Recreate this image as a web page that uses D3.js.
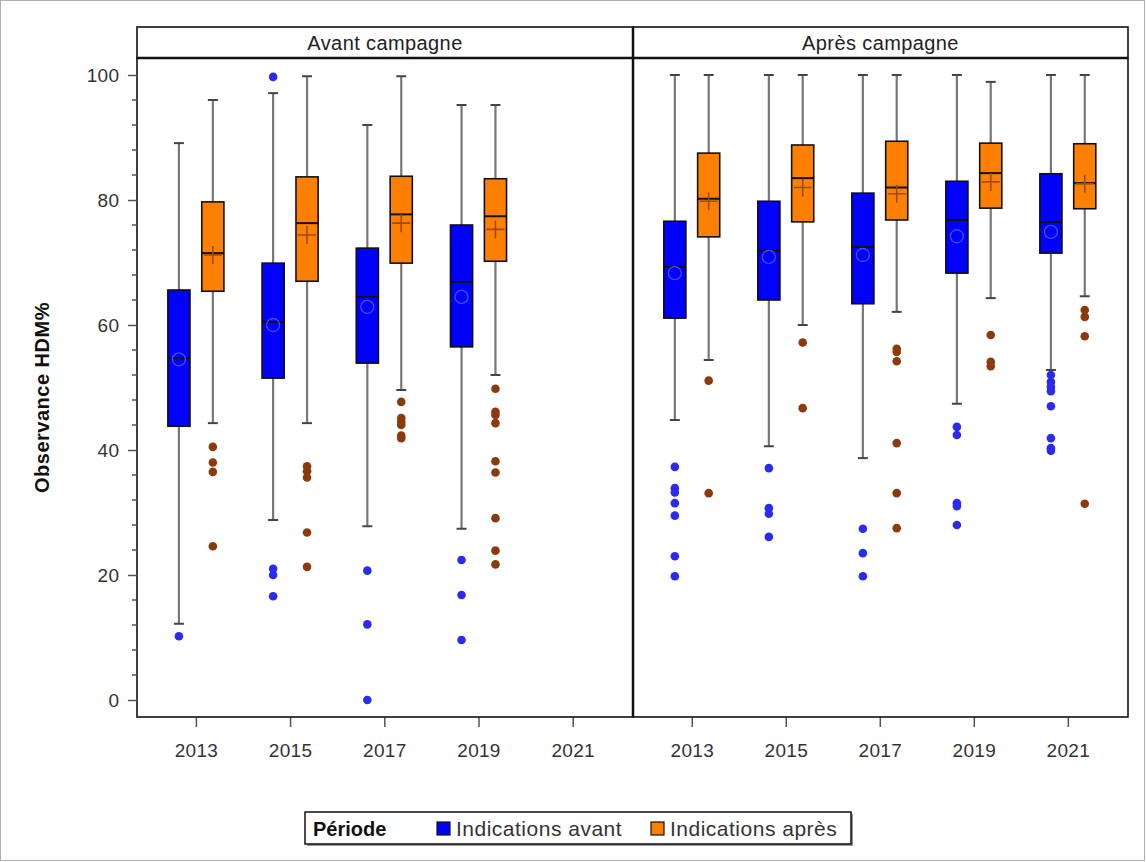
<!DOCTYPE html>
<html>
<head>
<meta charset="utf-8">
<script src="https://cdn.jsdelivr.net/npm/d3@7"></script>
<style>
  body { margin: 0; background: white; }
  text { font-family: Arial, "Liberation Sans", sans-serif; }
</style>
</head>
<body>
<div id="chart"></div>
<script>

// *** DATA ***
let years = [2013, 2015, 2017, 2019, 2021];
let panels = ["Avant campagne", "Après campagne"];
let series = ["Indications avant", "Indications après"];
let yTicks = [0, 20, 40, 60, 80, 100];

// rows: year, whisker low, q1, median, q3, whisker high, mean
let avantBlue = [
  [2013, 12.2, 43.8, 54.7, 65.6, 89.1, 54.5],
  [2015, 28.8, 51.5, 60.5, 69.9, 97.1, 60.0],
  [2017, 27.8, 53.9, 64.5, 72.3, 92.0, 62.9],
  [2019, 27.4, 56.5, 66.9, 76.0, 95.2, 64.5]
];
let avantOrange = [
  [2013, 44.3, 65.4, 71.5, 79.7, 96.0, 71.2],
  [2015, 44.3, 67.0, 76.3, 83.7, 99.8, 74.4],
  [2017, 49.6, 69.9, 77.7, 83.8, 99.8, 76.3],
  [2019, 52.0, 70.2, 77.4, 83.4, 95.2, 75.3]
];
let apresBlue = [
  [2013, 44.8, 61.1, 69.3, 76.6, 100, 68.3],
  [2015, 40.6, 64.0, 71.9, 79.8, 100, 70.9],
  [2017, 38.7, 63.4, 72.5, 81.1, 100, 71.2],
  [2019, 47.4, 68.3, 76.8, 83.0, 100, 74.2],
  [2021, 52.8, 71.5, 76.5, 84.2, 100, 74.9]
];
let apresOrange = [
  [2013, 54.4, 74.1, 80.2, 87.5, 100, 79.8],
  [2015, 60.0, 76.5, 83.5, 88.8, 100, 82.0],
  [2017, 62.1, 76.8, 82.0, 89.4, 100, 81.0],
  [2019, 64.3, 78.7, 84.3, 89.1, 98.9, 82.9],
  [2021, 64.6, 78.6, 82.7, 89.0, 100, 82.6]
];

// outliers: year, values
let avantBlueOut = [
  [2013, [10.2]],
  [2015, [99.7, 21.0, 20.0, 16.6]],
  [2017, [20.7, 12.1, 0]],
  [2019, [22.4, 16.8, 9.6]]
];
let avantOrangeOut = [
  [2013, [40.5, 38.0, 36.5, 24.6]],
  [2015, [37.4, 36.6, 35.6, 26.8, 21.3]],
  [2017, [47.7, 45.1, 44.5, 44.0, 42.3, 41.9]],
  [2019, [49.8, 46.1, 45.6, 44.3, 38.2, 36.4, 29.1, 23.9, 21.7]]
];
let apresBlueOut = [
  [2013, [37.3, 33.9, 33.2, 31.5, 29.5, 23.0, 19.8]],
  [2015, [37.1, 30.7, 29.8, 26.1]],
  [2017, [27.4, 23.5, 19.8]],
  [2019, [43.7, 42.4, 31.5, 31.0, 28.0]],
  [2021, [52.0, 50.9, 50.1, 49.4, 47.0, 41.9, 40.3, 39.9]]
];
let apresOrangeOut = [
  [2013, [51.1, 33.1]],
  [2015, [57.2, 46.7]],
  [2017, [56.2, 55.7, 54.2, 41.1, 33.1, 27.5]],
  [2019, [58.4, 54.1, 53.4]],
  [2021, [62.4, 61.3, 58.2, 31.4]]
];

// *** SETTINGS ***
let width = 1146, height = 862;
let plotTop = 58, plotBottom = 717, stripTop = 27;
let panelX = [[137, 633], [633, 1128]];
let offset = 0.36, boxW = 0.47;   // in years
let colors = {
  blue: "#0000ff", orange: "#ff8000",
  blueOut: "#2b2bf0", orangeOut: "#8c3a0c",
  blueMean: "#4a4aff", orangeMean: "#9a4a12",
  whisker: "#777777", text: "#333333"
};

let svg = d3.select("#chart").append("svg")
  .attr("width", width)
  .attr("height", height);

// outer frame
svg.append("rect")
  .attr("x", 0.5).attr("y", 0.5)
  .attr("width", width - 2).attr("height", height - 2)
  .attr("fill", "white")
  .attr("stroke", "#b0b0b0");

let y = d3.scaleLinear()
  .domain([-2.72, 102.72])
  .range([plotBottom, plotTop]);

let panelData = [
  { blue: avantBlue, orange: avantOrange, blueOut: avantBlueOut, orangeOut: avantOrangeOut },
  { blue: apresBlue, orange: apresOrange, blueOut: apresBlueOut, orangeOut: apresOrangeOut }
];

panelData.forEach(function(pd, p) {

  let x = d3.scaleLinear()
    .domain([2011.75, 2022.28])
    .range(panelX[p]);

  let g = svg.append("g").attr("class", "panel" + p);

  //x axis
  let xAxis = d3.axisBottom(x).tickValues(years).tickFormat(d3.format("d")).tickSize(10).tickSizeOuter(0);
  let ax = g.append("g").attr("transform", "translate(0," + plotBottom + ")").call(xAxis);
  ax.select(".domain").remove();
  ax.selectAll("line").attr("stroke", "#555").attr("stroke-width", 1.5);
  ax.selectAll("text")
    .attr("dy", "1.4em")
    .style("font-size", "19px")
    .style("letter-spacing", "0.3px")
    .style("fill", colors.text);

  //draw one series of boxes
  function drawBoxes(rows, outs, sign, fill, outColor, meanType) {
    let bg = g.append("g");
    rows.forEach(function(r) {
      let cx = x(r[0] + sign * offset);
      let x0 = x(r[0] + sign * offset - boxW / 2);
      let x1 = x(r[0] + sign * offset + boxW / 2);
      let capW = (x1 - x0) * 0.45;

      //whisker
      bg.append("line")
        .attr("x1", cx).attr("x2", cx)
        .attr("y1", y(r[1])).attr("y2", y(r[5]))
        .attr("stroke", colors.whisker).attr("stroke-width", 2.2);
      [r[1], r[5]].forEach(function(v) {
        bg.append("line")
          .attr("x1", cx - capW / 2).attr("x2", cx + capW / 2)
          .attr("y1", y(v)).attr("y2", y(v))
          .attr("stroke", "#444").attr("stroke-width", 2);
      });

      //box
      bg.append("rect")
        .attr("x", x0).attr("y", y(r[4]))
        .attr("width", x1 - x0).attr("height", y(r[2]) - y(r[4]))
        .attr("fill", fill)
        .attr("stroke", "#111").attr("stroke-width", 1.6);

      //median
      bg.append("line")
        .attr("x1", x0).attr("x2", x1)
        .attr("y1", y(r[3])).attr("y2", y(r[3]))
        .attr("stroke", "#111").attr("stroke-width", 2);

      //mean
      if (meanType == "circle") {
        bg.append("circle")
          .attr("cx", cx).attr("cy", y(r[6])).attr("r", 6.5)
          .attr("fill", "none")
          .attr("stroke", colors.blueMean).attr("stroke-width", 1.3);
      } else {
        let s = 9;
        bg.append("path")
          .attr("d", "M" + (cx - s) + "," + y(r[6]) + "H" + (cx + s) + "M" + cx + "," + (y(r[6]) - s) + "V" + (y(r[6]) + s))
          .attr("stroke", colors.orangeMean).attr("stroke-width", 1.6)
          .attr("fill", "none");
      }
    });

    //outliers
    outs.forEach(function(o) {
      bg.selectAll(null)
        .data(o[1])
        .enter()
        .append("circle")
          .attr("cx", x(o[0] + sign * offset))
          .attr("cy", d => y(d))
          .attr("r", 4.3)
          .attr("fill", outColor);
    });
  }

  drawBoxes(pd.blue, pd.blueOut, -1, colors.blue, colors.blueOut, "circle");
  drawBoxes(pd.orange, pd.orangeOut, 1, colors.orange, colors.orangeOut, "cross");

  //panel border
  g.append("rect")
    .attr("x", panelX[p][0]).attr("y", plotTop)
    .attr("width", panelX[p][1] - panelX[p][0]).attr("height", plotBottom - plotTop)
    .attr("fill", "none").attr("stroke", "#111").attr("stroke-width", 1.6);

  //header strip
  g.append("rect")
    .attr("x", panelX[p][0]).attr("y", stripTop)
    .attr("width", panelX[p][1] - panelX[p][0]).attr("height", plotTop - stripTop)
    .attr("fill", "white").attr("stroke", "#111").attr("stroke-width", 1.6);
  g.append("text")
    .attr("x", (panelX[p][0] + panelX[p][1]) / 2)
    .attr("y", (stripTop + plotTop) / 2 + 7)
    .attr("text-anchor", "middle")
    .style("font-size", "20px")
    .style("letter-spacing", "0.4px")
    .style("fill", "#222")
    .text(panels[p]);
});

//thick divider between panels
svg.append("line")
  .attr("x1", panelX[0][1]).attr("x2", panelX[0][1])
  .attr("y1", stripTop).attr("y2", plotBottom)
  .attr("stroke", "#111").attr("stroke-width", 2.5);
svg.append("line")
  .attr("x1", panelX[0][0]).attr("x2", panelX[1][1])
  .attr("y1", plotTop).attr("y2", plotTop)
  .attr("stroke", "#111").attr("stroke-width", 2.5);

//y axis
let yAxis = d3.axisLeft(y).tickValues(yTicks).tickSize(9).tickSizeOuter(0);
let ay = svg.append("g").attr("transform", "translate(" + panelX[0][0] + ",0)").call(yAxis);
ay.select(".domain").remove();
ay.selectAll("line").attr("stroke", "#555").attr("stroke-width", 1.5);
ay.selectAll("text").attr("dx", "-0.3em").style("font-size", "19px").style("letter-spacing", "0.3px").style("fill", colors.text);

//minor ticks
let minor = d3.range(0, 101, 4).filter(d => d % 20 != 0);
svg.append("g").selectAll("line")
  .data(minor)
  .enter()
  .append("line")
    .attr("x1", panelX[0][0] - 5).attr("x2", panelX[0][0])
    .attr("y1", d => y(d)).attr("y2", d => y(d))
    .attr("stroke", "#555").attr("stroke-width", 1.5);

//y title
svg.append("text")
  .attr("transform", "translate(49," + ((plotTop + plotBottom) / 2 + 10) + ") rotate(-90)")
  .attr("text-anchor", "middle")
  .style("font-size", "20px")
  .style("font-weight", "bold")
  .style("letter-spacing", "0.5px")
  .style("fill", "#111")
  .text("Observance HDM%");

//legend
let lg = svg.append("g").attr("class", "legend");
lg.append("rect")
  .attr("x", 307).attr("y", 814).attr("width", 546).attr("height", 32)
  .attr("fill", "#999");
lg.append("rect")
  .attr("x", 305).attr("y", 812).attr("width", 546).attr("height", 32)
  .attr("fill", "white").attr("stroke", "#111").attr("stroke-width", 1.5);
lg.append("text")
  .attr("x", 313).attr("y", 836)
  .style("font-size", "20px").style("font-weight", "bold").style("fill", "#111")
  .text("Période");

let lgX = [437, 651];
let lgFill = [colors.blue, colors.orange];
lg.selectAll("rect.key")
  .data(series)
  .enter()
  .append("rect")
    .attr("class", "key")
    .attr("x", (d, i) => lgX[i]).attr("y", 822)
    .attr("width", 13).attr("height", 13)
    .attr("fill", (d, i) => lgFill[i])
    .attr("stroke", "#111").attr("stroke-width", 1.2);
lg.selectAll("text.key")
  .data(series)
  .enter()
  .append("text")
    .attr("class", "key")
    .attr("x", (d, i) => lgX[i] + 19).attr("y", 836)
    .style("font-size", "21px").style("letter-spacing", "0.5px").style("fill", colors.text)
    .text(d => d);

</script>
</body>
</html>
